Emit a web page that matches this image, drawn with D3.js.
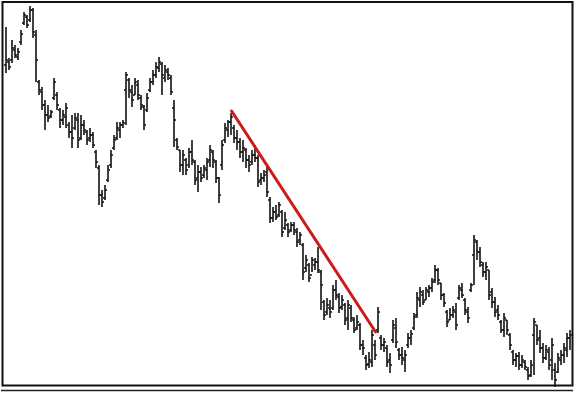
<!DOCTYPE html>
<html>
<head>
<meta charset="utf-8">
<script src="https://cdn.jsdelivr.net/npm/d3@7"></script>
<style>
    body { margin: 0; background: #fff; }
    svg { display: block; }
</style>
</head>
<body>
<script>

    // OHLC bars, one per session (price units)
    var opens = [335,338,340,350,343,358,377,383,380,390, 365,318,308,295,285,284,302,305,290,280,
                 283,275,268,272,280,262,275,268,262,265, 248,232,205,202,220,235,252,262,270,275,
                 310,320,308,305,315,302,293,290,310,318, 325,332,336,322,328,322,292,260,250,235,
                 240,235,248,238,222,228,225,230,240,248, 238,222,235,260,270,278,272,262,258,248,
                 250,240,238,245,242,220,222,228,200,182, 188,185,188,172,175,170,175,168,160,155,
                 132,135,125,135,138,128,98,88,92,92, 110,103,93,95,82,92,80,72,75,55,
                 42,36,38,55,70,62,55,52,40,60, 72,50,45,40,55,62,72,85,100,105,
                 100,108,112,120,130,117,105,88,80,85, 88,102,110,100,88,110,145,158,148,135,
                 128,130,108,98,90,78,70,80,65,48, 40,44,35,38,30,25,65,75,62,52,
                 42,48,40,30,28,40,45,50,62];

    var highs = [373,342,360,355,352,370,388,385,394,392, 370,320,313,300,295,290,322,308,292,290,
                 297,278,285,287,287,285,280,270,272,268, 250,235,210,215,235,250,265,278,278,280,
                 328,322,315,322,320,305,295,307,322,330, 338,343,338,335,332,325,300,262,250,250,
                 242,252,260,240,235,233,235,242,255,250, 240,223,260,277,280,287,275,270,262,260,
                 252,245,250,255,245,227,230,233,203,193, 195,198,190,188,177,178,178,172,168,157,
                 145,137,143,142,153,130,100,102,100,115, 120,107,105,97,100,95,83,85,77,60,
                 45,48,70,60,93,65,62,55,47,80, 82,52,53,50,67,70,87,108,113,110,
                 113,115,122,135,132,117,107,90,92,94, 97,115,117,102,93,117,165,160,153,138,
                 138,130,112,103,95,80,87,80,67,50, 47,48,45,40,33,40,82,75,70,57,
                 55,53,62,37,47,50,57,67,70];

    var lows = [327,330,337,342,340,355,375,372,378,362, 318,305,290,270,278,282,300,290,272,275,
                272,262,252,270,252,260,265,255,258,252, 232,195,193,200,218,232,250,260,262,272,
                275,302,293,305,300,290,270,288,308,315, 322,328,305,318,320,305,253,250,228,225,
                225,232,235,215,208,218,222,220,233,232, 217,197,230,257,263,265,257,250,242,238,
                232,228,235,238,213,215,218,203,177,178, 180,183,163,170,163,168,165,153,155,120,
                128,118,128,130,127,90,80,85,82,90, 100,87,90,75,70,78,67,70,50,45,
                30,32,33,40,67,50,48,33,27,57, 52,40,35,28,52,55,70,82,93,95,
                100,103,108,117,115,100,93,73,80,82, 70,100,102,85,77,108,115,140,133,123,
                120,100,92,83,80,67,63,65,50,35, 33,30,32,30,20,23,25,55,47,37,
                40,30,20,13,27,35,37,43,50];

    var closes = [340,333,352,345,348,366,385,375,390,368, 340,310,295,285,282,288,318,295,280,285,
                  292,268,262,282,260,275,270,260,265,255, 238,205,198,210,230,245,260,272,275,277,
                  325,310,300,318,305,295,275,302,318,325, 333,338,325,330,325,308,280,253,235,245,
                  230,248,240,220,228,222,232,238,250,240, 222,205,255,272,278,283,262,258,248,252,
                  240,235,245,242,218,222,225,208,182,188, 183,195,168,180,168,175,170,158,165,128,
                  140,122,140,138,130,115,85,95,88,110, 105,92,100,80,95,82,70,78,55,52,
                  35,40,65,45,88,55,58,38,35,75, 58,45,42,45,62,66,83,102,108,98,
                  110,112,118,130,120,105,97,78,85,90, 75,112,105,90,82,115,160,148,138,128,
                  133,105,98,88,85,70,82,70,55,40, 44,35,40,33,24,35,78,60,52,42,
                  50,35,55,20,42,45,52,62,65];

    // hand-drawn resistance line: [bar index, price]
    var trendIdx = [75.2, 123.2];
    var trendPrice = [289, 68];

    var width = 575, height = 395;

    var svg = d3.select("body").append("svg")
        .attr("width", width)
        .attr("height", height);

    var n = highs.length;
    var x = d3.scaleLinear().domain([0, n - 1]).range([6, 570]);
    var y = d3.scaleLinear().domain([0, 400]).range([400, 0]);

    var bars = d3.range(n).map(function(i) {
        return {i: i, o: opens[i], h: highs[i], l: lows[i], c: closes[i]};
    });

    var tick = 2;

    var g = svg.append("g")
        .attr("stroke", "#111")
        .attr("stroke-width", 1.6)
        .attr("fill", "none");

    var bar = g.selectAll("g.bar")
        .data(bars)
        .enter().append("g")
        .attr("class", "bar");

    bar.append("line")
        .attr("x1", d => x(d.i)).attr("x2", d => x(d.i))
        .attr("y1", d => y(d.h)).attr("y2", d => y(d.l));

    bar.append("line")
        .attr("x1", d => x(d.i) - tick).attr("x2", d => x(d.i))
        .attr("y1", d => y(d.o)).attr("y2", d => y(d.o));

    bar.append("line")
        .attr("x1", d => x(d.i)).attr("x2", d => x(d.i) + tick)
        .attr("y1", d => y(d.c)).attr("y2", d => y(d.c));

    // trend line
    svg.append("line")
        .attr("x1", x(trendIdx[0])).attr("y1", y(trendPrice[0]))
        .attr("x2", x(trendIdx[1])).attr("y2", y(trendPrice[1]))
        .attr("stroke", "#cc1b1b")
        .attr("stroke-width", 3)
        .attr("stroke-linecap", "round");

    // frame
    svg.append("rect")
        .attr("x", 2.5).attr("y", 2)
        .attr("width", 570).attr("height", 383.5)
        .attr("fill", "none")
        .attr("stroke", "#111")
        .attr("stroke-width", 2);

    svg.append("line")
        .attr("x1", 1).attr("x2", 573)
        .attr("y1", 390.5).attr("y2", 390.5)
        .attr("stroke", "#222")
        .attr("stroke-width", 1.5);

</script>
</body>
</html>
